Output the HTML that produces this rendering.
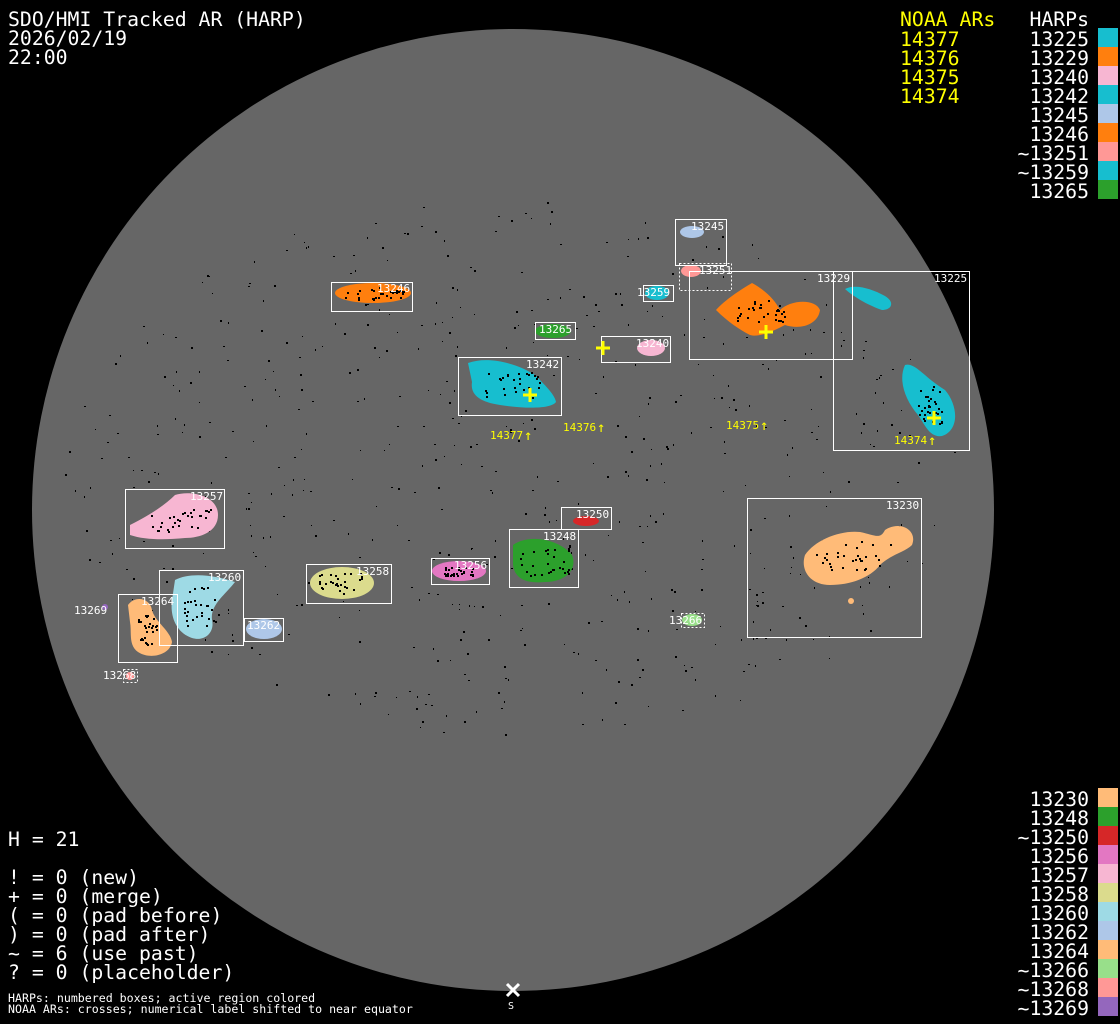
<!DOCTYPE html>
<html><head><meta charset="utf-8"><style>
html,body{margin:0;padding:0;background:#000;}
svg{display:block}
text{font-family:"DejaVu Sans Mono","Liberation Mono",monospace;}
.big{font-size:19.8px;fill:#fff}
.y{fill:#ffff00}
.lab{font-size:11px;fill:#fff}
.nl{font-size:11px;fill:#ffff00}
.sm{font-size:11.6px;fill:#fff}
</style></head><body>
<svg width="1120" height="1024" viewBox="0 0 1120 1024" xmlns="http://www.w3.org/2000/svg">
<rect width="1120" height="1024" fill="#000"/>
<circle cx="513" cy="510" r="481" fill="#666"/>
<g id="dots" fill="#000"></g>
<g>
<ellipse cx="692" cy="232" rx="12" ry="6" fill="#aec7e8"/>
<ellipse cx="691" cy="271" rx="10" ry="6" fill="#ff9896"/>
<ellipse cx="657" cy="293" rx="12" ry="7" fill="#17becf"/>
<ellipse cx="373" cy="293" rx="38" ry="10" fill="#ff7f0e"/>
<ellipse cx="553" cy="331" rx="18" ry="7" fill="#2ca02c"/>
<ellipse cx="651" cy="348" rx="14" ry="8" fill="#f7b6d2"/>
<path d="M468,363 C490,355 520,365 535,375 C545,385 555,395 556,402 C550,410 520,408 500,405 C480,402 470,395 472,382 Z" fill="#17becf"/>
<path d="M716,310 C725,300 740,290 752,283 C765,290 775,300 780,310 C790,300 815,298 820,310 C818,325 800,330 785,325 C775,330 760,338 750,335 C740,330 728,322 716,310 Z" fill="#ff7f0e"/>
<path d="M845,289 C855,284 870,288 885,296 C895,302 892,310 882,310 C870,306 855,298 845,289 Z" fill="#17becf"/>
<path d="M905,365 C915,362 925,378 945,390 C958,405 960,430 942,436 C930,438 925,425 918,415 C905,400 898,380 905,365 Z" fill="#17becf"/>
<path d="M130,525 C150,515 165,505 175,495 C190,490 218,495 218,515 C218,532 200,538 185,538 C165,540 145,540 130,535 Z" fill="#f7b6d2"/>
<ellipse cx="586" cy="521" rx="13" ry="5" fill="#d62728"/>
<path d="M513,545 C530,533 560,540 572,555 C578,570 565,582 545,582 C525,584 512,578 513,560 Z" fill="#2ca02c"/>
<path d="M805,555 C815,540 840,530 860,532 C875,535 880,540 885,530 C900,520 918,530 912,545 C905,552 890,555 880,565 C870,578 850,585 830,585 C810,585 800,570 805,555 Z" fill="#ffbb78"/>
<ellipse cx="851" cy="601" rx="3" ry="3" fill="#ffbb78"/>
<ellipse cx="459" cy="571" rx="27" ry="10" fill="#e377c2"/>
<ellipse cx="342" cy="583" rx="32" ry="16" fill="#dbdb8d"/>
<path d="M175,580 C190,572 215,575 235,582 C225,595 210,605 212,620 C215,632 205,642 192,638 C175,632 170,615 172,600 Z" fill="#9edae5"/>
<ellipse cx="264" cy="629" rx="18" ry="10" fill="#aec7e8"/>
<path d="M128,605 C135,595 150,598 152,610 C155,622 170,630 172,642 C170,655 150,660 138,652 C128,645 132,632 130,622 Z" fill="#ffbb78"/>
<ellipse cx="692" cy="620" rx="10" ry="6" fill="#98df8a"/>
<ellipse cx="130" cy="676" rx="4" ry="4" fill="#ff9896"/>
<ellipse cx="105" cy="607" rx="3" ry="3" fill="#9467bd"/>
</g>
<g id="blobdots" fill="#000"></g>
<g fill="none" stroke="#fff" stroke-width="1">
<rect x="675.5" y="219.5" width="51" height="46"/>
<rect x="679.5" y="263.5" width="52" height="27" stroke-dasharray="2,2"/>
<rect x="643.5" y="285.5" width="30" height="16"/>
<rect x="331.5" y="282.5" width="81" height="29"/>
<rect x="535.5" y="322.5" width="40" height="17"/>
<rect x="601.5" y="336.5" width="69" height="26"/>
<rect x="458.5" y="357.5" width="103" height="58"/>
<rect x="689.5" y="271.5" width="163" height="88"/>
<rect x="833.5" y="271.5" width="136" height="179"/>
<rect x="125.5" y="489.5" width="99" height="59"/>
<rect x="561.5" y="507.5" width="50" height="22"/>
<rect x="509.5" y="529.5" width="69" height="58"/>
<rect x="747.5" y="498.5" width="174" height="139"/>
<rect x="431.5" y="558.5" width="58" height="26"/>
<rect x="306.5" y="564.5" width="85" height="39"/>
<rect x="159.5" y="570.5" width="84" height="75"/>
<rect x="244.5" y="618.5" width="39" height="23"/>
<rect x="118.5" y="594.5" width="59" height="68"/>
<rect x="681.5" y="613.5" width="23" height="14" stroke-dasharray="2,2"/>
<rect x="123.5" y="669.5" width="14" height="13" stroke-dasharray="2,2"/>
</g>
<g class="lab">
<text x="691" y="230">13245</text>
<text x="699" y="274">13251</text>
<text x="637" y="296">13259</text>
<text x="377" y="292">13246</text>
<text x="539" y="333">13265</text>
<text x="636" y="347">13240</text>
<text x="526" y="368">13242</text>
<text x="817" y="282">13229</text>
<text x="934" y="282">13225</text>
<text x="190" y="500">13257</text>
<text x="576" y="518">13250</text>
<text x="543" y="540">13248</text>
<text x="886" y="509">13230</text>
<text x="454" y="569">13256</text>
<text x="356" y="575">13258</text>
<text x="208" y="581">13260</text>
<text x="247" y="629">13262</text>
<text x="141" y="605">13264</text>
<text x="669" y="624">13266</text>
<text x="103" y="679">13268</text>
<text x="74" y="614">13269</text>
</g>
<g stroke="#ffff00" stroke-width="3">
<path d="M596,348h14M603,341v14"/>
<path d="M523,395h14M530,388v14"/>
<path d="M759,332h14M766,325v14"/>
<path d="M927,418h14M934,411v14"/>
</g>
<g class="nl">
<text x="490" y="439">14377</text><text x="524" y="440" style="font-size:14px">↑</text>
<text x="563" y="431">14376</text><text x="597" y="432" style="font-size:14px">↑</text>
<text x="726" y="429">14375</text><text x="760" y="430" style="font-size:14px">↑</text>
<text x="894" y="444">14374</text><text x="928" y="445" style="font-size:14px">↑</text>
</g>
<path d="M507,984l12,12M519,984l-12,12" stroke="#fff" stroke-width="3"/>
<text x="508" y="1009" class="sm" style="font-size:10px">S</text>
<g class="big">
<text x="8" y="26">SDO/HMI Tracked AR (HARP)</text>
<text x="8" y="45">2026/02/19</text>
<text x="8" y="64">22:00</text>
<text x="8" y="846">H = 21</text>
<text x="8" y="884">! = 0 (new)</text>
<text x="8" y="903">+ = 0 (merge)</text>
<text x="8" y="922">( = 0 (pad before)</text>
<text x="8" y="941">) = 0 (pad after)</text>
<text x="8" y="960">~ = 6 (use past)</text>
<text x="8" y="979">? = 0 (placeholder)</text>
</g>
<g class="sm">
<text x="8" y="1002">HARPs: numbered boxes; active region colored</text>
<text x="8" y="1013">NOAA ARs: crosses; numerical label shifted to near equator</text>
</g>
<g class="big y">
<text x="900" y="26">NOAA ARs</text>
<text x="900" y="46">14377</text>
<text x="900" y="65">14376</text>
<text x="900" y="84">14375</text>
<text x="900" y="103">14374</text>
</g>
<g class="big" text-anchor="end">
<text x="1089" y="26">HARPs</text>
<text x="1089" y="46">13225</text>
<text x="1089" y="65">13229</text>
<text x="1089" y="84">13240</text>
<text x="1089" y="103">13242</text>
<text x="1089" y="122">13245</text>
<text x="1089" y="141">13246</text>
<text x="1089" y="160">~13251</text>
<text x="1089" y="179">~13259</text>
<text x="1089" y="198">13265</text>
<text x="1089" y="806">13230</text>
<text x="1089" y="825">13248</text>
<text x="1089" y="844">~13250</text>
<text x="1089" y="863">13256</text>
<text x="1089" y="882">13257</text>
<text x="1089" y="901">13258</text>
<text x="1089" y="920">13260</text>
<text x="1089" y="939">13262</text>
<text x="1089" y="958">13264</text>
<text x="1089" y="977">~13266</text>
<text x="1089" y="996">~13268</text>
<text x="1089" y="1015">~13269</text>
</g>
<g>
<rect x="1098" y="28" width="20" height="19" fill="#17becf"/>
<rect x="1098" y="47" width="20" height="19" fill="#ff7f0e"/>
<rect x="1098" y="66" width="20" height="19" fill="#f7b6d2"/>
<rect x="1098" y="85" width="20" height="19" fill="#17becf"/>
<rect x="1098" y="104" width="20" height="19" fill="#aec7e8"/>
<rect x="1098" y="123" width="20" height="19" fill="#ff7f0e"/>
<rect x="1098" y="142" width="20" height="19" fill="#ff9896"/>
<rect x="1098" y="161" width="20" height="19" fill="#17becf"/>
<rect x="1098" y="180" width="20" height="19" fill="#2ca02c"/>
<rect x="1098" y="788" width="20" height="19" fill="#ffbb78"/>
<rect x="1098" y="807" width="20" height="19" fill="#2ca02c"/>
<rect x="1098" y="826" width="20" height="19" fill="#d62728"/>
<rect x="1098" y="845" width="20" height="19" fill="#e377c2"/>
<rect x="1098" y="864" width="20" height="19" fill="#f7b6d2"/>
<rect x="1098" y="883" width="20" height="19" fill="#dbdb8d"/>
<rect x="1098" y="902" width="20" height="19" fill="#9edae5"/>
<rect x="1098" y="921" width="20" height="19" fill="#aec7e8"/>
<rect x="1098" y="940" width="20" height="19" fill="#ffbb78"/>
<rect x="1098" y="959" width="20" height="19" fill="#98df8a"/>
<rect x="1098" y="978" width="20" height="19" fill="#ff9896"/>
<rect x="1098" y="997" width="20" height="19" fill="#9467bd"/>
</g>
</svg>
<script>
(function(){
var s=12345;function r(){s=(s*1103515245+12345)%2147483648;return s/2147483648;}
var g=document.getElementById('dots'),h='';
for(var i=0;i<600;i++){var a=r()*6.283,d=Math.sqrt(r())*450;var x=513+d*Math.cos(a),y=470+d*Math.sin(a)*0.6;
var w=1+Math.floor(r()*2),hh=1+Math.floor(r()*2);h+='<rect x="'+x.toFixed(0)+'" y="'+y.toFixed(0)+'" width="'+w+'" height="'+hh+'"/>';}
g.innerHTML=h;
var c=[[373,293,30,6],[510,385,30,15],[760,310,25,12],[930,405,12,20],[180,520,30,12],[545,560,25,15],[850,555,40,15],[340,583,22,10],[200,605,20,20],[145,630,12,15],[459,571,15,5]];
h='';c.forEach(function(q){for(var i=0;i<30;i++){h+='<rect x="'+(q[0]+(r()-0.5)*2*q[2]).toFixed(0)+'" y="'+(q[1]+(r()-0.5)*2*q[3]).toFixed(0)+'" width="2" height="2"/>';}});
document.getElementById('blobdots').innerHTML=h;
})();
</script>
</body></html>
